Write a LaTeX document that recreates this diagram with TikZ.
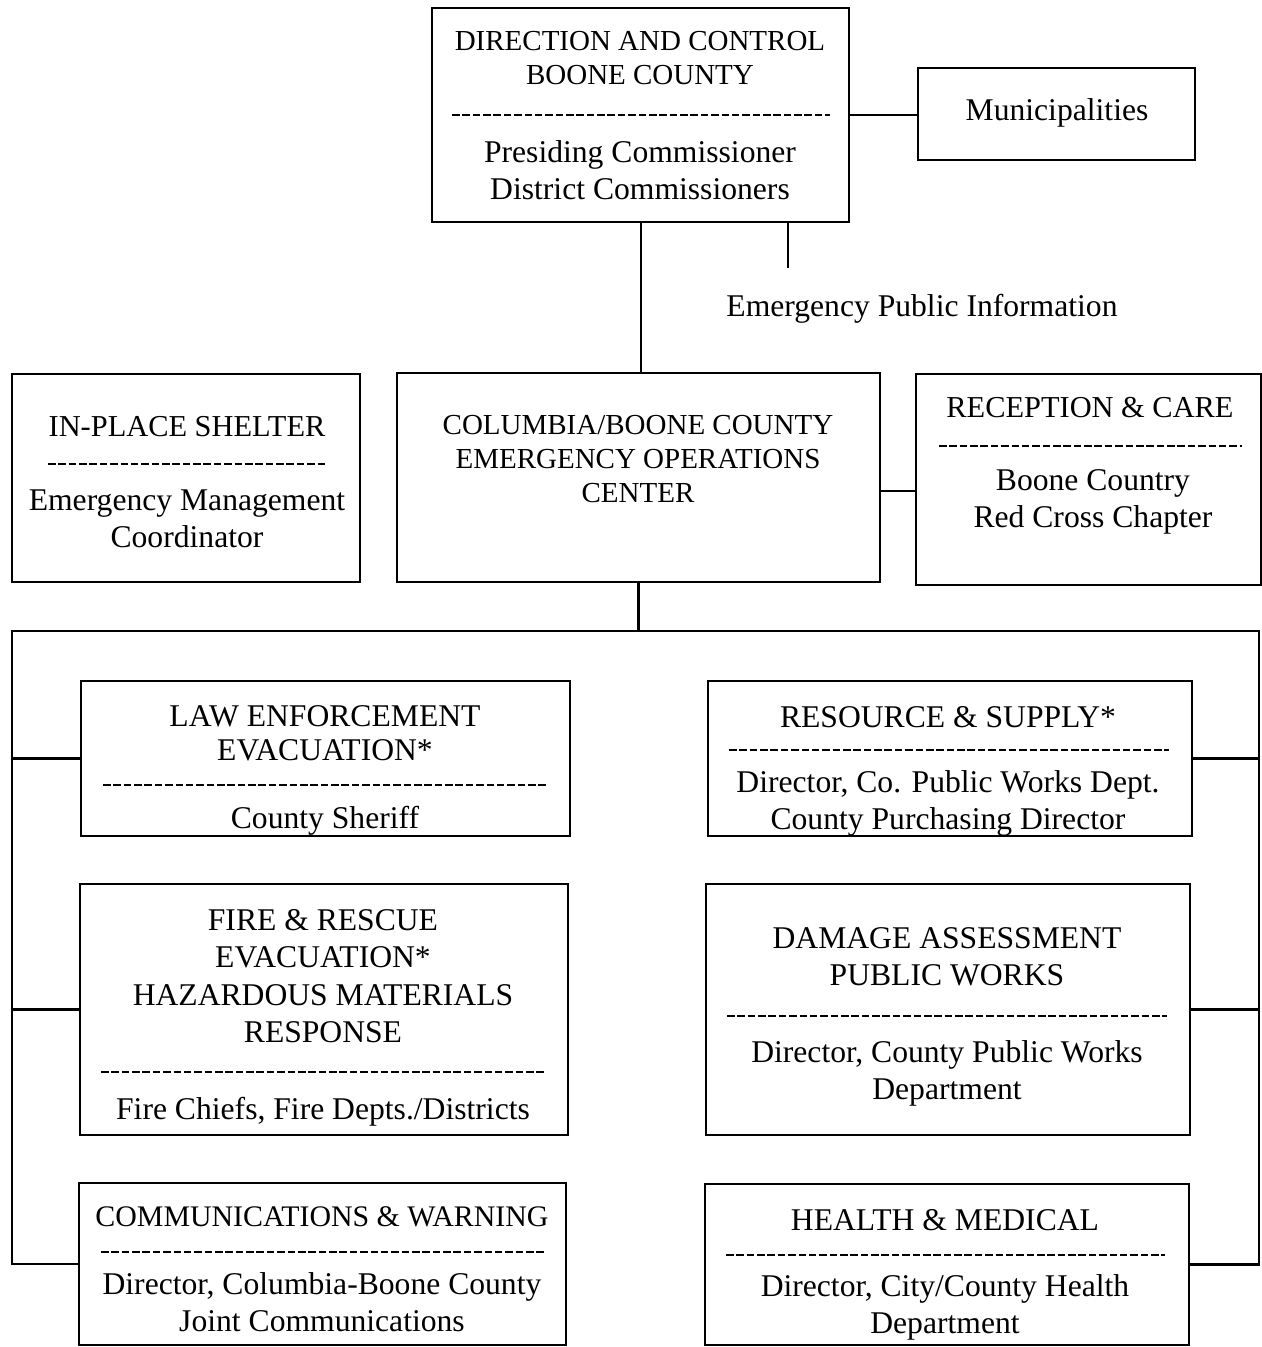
\documentclass[tikz,border=0pt]{standalone}
\usepackage{fontspec}
\setmainfont{Liberation Serif}
\usetikzlibrary{fit}
\begin{document}
\begin{tikzpicture}[x=0.02cm,y=-0.02cm,line width=1.3pt,
        box/.style={draw,inner sep=0pt},
        head/.style={font=\fontsize{16.5}{19.3}\selectfont,align=center,inner sep=0pt},
        bighead/.style={font=\fontsize{18}{21.3}\selectfont,align=center,inner sep=0pt},
        body/.style={font=\fontsize{18}{21}\selectfont,align=center,inner sep=0pt},
        sep/.style={line width=0.9pt,dash pattern=on 4.3pt off 1.6pt}]
    \useasboundingbox (0,0) rectangle (1262,1347);
    % boxes
    \node[box,fit={(432,8) (849,222)}] (dc) {};
    \node[box,fit={(918,68) (1195,160)}] (muni) {};
    \node[box,fit={(12,374) (360,582)}] (shelter) {};
    \node[box,fit={(397,373) (880,582)}] (eoc) {};
    \node[box,fit={(916,374) (1261,585)}] (care) {};
    \node[box,fit={(81,681) (570,836)}] (law) {};
    \node[box,fit={(80,884) (568,1135)}] (fire) {};
    \node[box,fit={(79,1183) (566,1345)}] (comm) {};
    \node[box,fit={(708,681) (1192,836)}] (supply) {};
    \node[box,fit={(706,884) (1190,1135)}] (damage) {};
    \node[box,fit={(705,1184) (1189,1345)}] (health) {};
    % texts
    \node[head] (dchead) at (640,58) {DIRECTION AND CONTROL\\BOONE COUNTY};
    \draw[sep] (452,115) -- (830,115);
    \node[body] (dcbody) at (640,170) {Presiding Commissioner\\District Commissioners};
    \node[body] (munitext) at (1057,113) {Municipalities};
    \node[body] (epi) at (922,309) {Emergency Public Information};
    \node[head,font=\fontsize{17.3}{20}\selectfont] (shelterhead) at (187,427) {IN-PLACE SHELTER};
    \draw[sep] (48,464) -- (325,464);
    \node[body] (shelterbody) at (187,519) {Emergency Management\\Coordinator};
    \node[head] (eochead) at (638,459) {COLUMBIA/BOONE COUNTY\\EMERGENCY OPERATIONS\\CENTER};
    \node[head,font=\fontsize{17.3}{20}\selectfont] (carehead) at (1090,408) {RECEPTION \& CARE};
    \draw[sep] (939,446) -- (1242,446);
    \node[body] (carebody) at (1093,502) {Boone Country\\Red Cross Chapter};
    \node[bighead,font=\fontsize{18}{19.3}\selectfont] (lawhead) at (325,733) {LAW ENFORCEMENT\\EVACUATION*};
    \draw[sep] (103,785) -- (548,785);
    \node[body] (lawbody) at (325,821) {County Sheriff};
    \node[bighead] (firehead) at (323,976) {FIRE \& RESCUE\\EVACUATION*\\HAZARDOUS MATERIALS\\RESPONSE};
    \draw[sep] (101,1072) -- (546,1072);
    \node[body] (firebody) at (323,1112) {Fire Chiefs, Fire Depts./Districts};
    \node[bighead,font=\fontsize{17}{20}\selectfont] (commhead) at (322,1217) {COMMUNICATIONS \& WARNING};
    \draw[sep] (101,1252) -- (545,1252);
    \node[body] (commbody) at (322,1302) {Director, Columbia-Boone County\\Joint Communications};
    \node[bighead] (supplyhead) at (948,717) {RESOURCE \& SUPPLY*};
    \draw[sep] (729,750) -- (1169,750);
    \node[body] (supplybody) at (948,803) {Director, Co. Public Works Dept.\\County Purchasing Director};
    \node[bighead] (damagehead) at (947,957) {DAMAGE ASSESSMENT\\PUBLIC WORKS};
    \draw[sep] (727,1016) -- (1167,1016);
    \node[body] (damagebody) at (947,1073) {Director, County Public Works\\Department};
    \node[bighead] (healthhead) at (945,1220) {HEALTH \& MEDICAL};
    \draw[sep] (726,1255) -- (1165,1255);
    \node[body] (healthbody) at (945,1307) {Director, City/County Health\\Department};
    % connectors
    \coordinate (epitop) at (788,268);
    \coordinate (busL) at (12,631);
    \coordinate (busR) at (1259,631);
    \draw (dc.east) -- (muni.west |- dc.east);
    \draw (641,222) -- (641,373);
    \draw (epitop |- dc.south) -- (epitop);
    \draw (eoc.east |- 0,491) -- (care.west |- 0,491);
    \draw (eoc.south) -- (eoc.south |- busL);
    \draw (comm.west) -- (busL |- comm.west) -- (busL) -- (busR) -- (busR |- health.east) -- (health.east);
    \foreach \b in {law,fire}{
        \draw (busL |- \b.west) -- (\b.west);
    }
    \foreach \b in {supply,damage}{
        \draw (busR |- \b.east) -- (\b.east);
    }
\end{tikzpicture}
\end{document}
